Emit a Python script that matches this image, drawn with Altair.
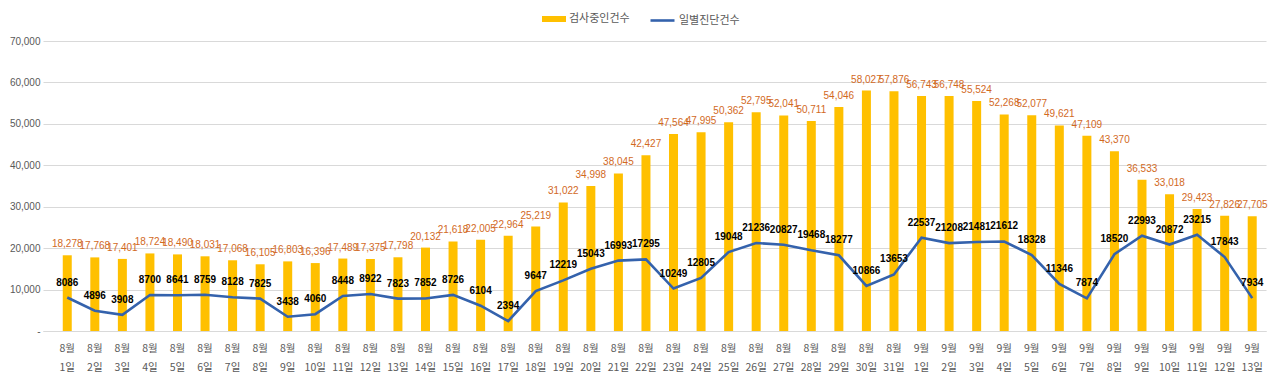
import altair as alt
import pandas as pd

dates = [f"8월 {d}일" for d in range(1, 32)] + [f"9월 {d}일" for d in range(1, 14)]

testing = [18278, 17768, 17401, 18724, 18490, 18031, 17068, 16105, 16803, 16396,
           17489, 17375, 17798, 20132, 21618, 22005, 22964, 25219, 31022, 34998,
           38045, 42427, 47564, 47995, 50362, 52795, 52041, 50711, 54046, 58027,
           57876, 56743, 56748, 55524, 52268, 52077, 49621, 47109, 43370, 36533,
           33018, 29423, 27826, 27705]

daily = [8086, 4896, 3908, 8700, 8641, 8759, 8128, 7825, 3438, 4060,
         8448, 8922, 7823, 7852, 8726, 6104, 2394, 9647, 12219, 15043,
         16993, 17295, 10249, 12805, 19048, 21236, 20827, 19468, 18277, 10866,
         13653, 22537, 21208, 21481, 21612, 18328, 11346, 7874, 18520, 22993,
         20872, 23215, 17843, 7934]

y_ticks = [0, 10000, 20000, 30000, 40000, 50000, 60000, 70000]

bar_name = "검사중인건수"
line_name = "일별진단건수"

df = pd.DataFrame({"date": dates, "testing": testing, "daily": daily})
df["bar_series"] = bar_name
df["line_series"] = line_name

KFONT = "Malgun Gothic, Noto Sans CJK KR"
NFONT = "Liberation Sans, Arial"

x = alt.X(
    "date:N", sort=dates,
    scale=alt.Scale(paddingInner=0, paddingOuter=0.19, align=1),
    axis=alt.Axis(title=None, labelAngle=0, ticks=False, labelExpr="split(datum.label, ' ')",
                  domainColor="#D9D9D9", labelPadding=12, labelLineHeight=19,
                  labelFontSize=10.5, labelColor="#595959", labelFont=KFONT,
                  labelBaseline="top"),
)

yscale = alt.Scale(domain=[0, 70000])
yaxis = alt.Axis(title=None, values=y_ticks, ticks=False, domain=False,
                 labelExpr="datum.value == 0 ? '-' : format(datum.value, ',')",
                 gridColor="#D9D9D9", labelPadding=3, labelColor="#595959",
                 labelFontSize=10, labelFont=NFONT)

base = alt.Chart(df)

bars = base.mark_bar(size=9).encode(
    x=x,
    y=alt.Y("testing:Q", scale=yscale, axis=yaxis),
    fill=alt.Fill("bar_series:N",
                  scale=alt.Scale(domain=[bar_name], range=["#FFC000"]),
                  legend=alt.Legend(title=None, orient="none", legendX=499, legendY=-34,
                                    symbolType="M-1,-0.25H1V0.25H-1Z", symbolSize=576,
                                    symbolStrokeWidth=0, labelFont=KFONT, labelFontSize=11,
                                    labelColor="#595959", labelOffset=3, padding=0)),
)

bar_text = base.mark_text(dy=-11, baseline="middle", fontSize=10, font=NFONT,
                          color="#D2691E").encode(
    x=x,
    y=alt.Y("testing:Q", scale=yscale),
    text=alt.Text("testing:Q", format=","),
)

line = base.mark_line(strokeWidth=2.6).encode(
    x=x,
    y=alt.Y("daily:Q", scale=yscale),
    stroke=alt.Stroke("line_series:N",
                      scale=alt.Scale(domain=[line_name], range=["#3462AC"]),
                      legend=alt.Legend(title=None, orient="none", legendX=606, legendY=-34,
                                        symbolType="stroke", symbolSize=576,
                                        symbolStrokeWidth=2.6, labelFont=KFONT,
                                        labelFontSize=11, labelColor="#595959",
                                        labelOffset=3, padding=0)),
)

line_text = base.mark_text(dy=-15, baseline="middle", fontSize=10, font=NFONT,
                           fontWeight="bold", color="#000000").encode(
    x=x,
    y=alt.Y("daily:Q", scale=yscale),
    text=alt.Text("daily:Q", format="d"),
)

chart = alt.layer(bars, bar_text, line, line_text).properties(
    width=1223, height=290,
    autosize=alt.AutoSizeParams(type="none"),
    padding={"left": 35, "top": 33, "right": 6, "bottom": 44},
    background="#FFFFFF",
).configure_view(strokeWidth=0)

chart.save("out.html", embed_options={"renderer": "svg", "actions": False})
